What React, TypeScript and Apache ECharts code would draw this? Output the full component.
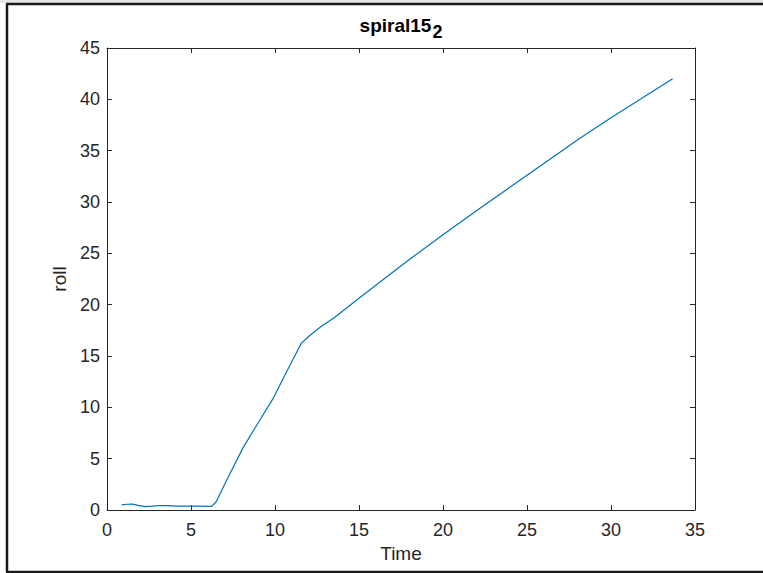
import React, { useEffect, useRef } from "react";
import * as echarts from "echarts";

const timeValues: number[] = [
  0.87, 1.2, 1.5, 1.85, 2.26, 2.7, 3.15, 3.6, 4.15, 5.0, 5.6, 6.23, 6.5, 7.12, 8.11,
  9.0, 9.9, 10.7, 11.55, 12.0, 12.68, 13.5, 15.06, 16.25, 18, 20, 22.2, 25, 28.15, 30, 33.67,
];
const rollValues: number[] = [
  0.5, 0.56, 0.57, 0.45, 0.33, 0.38, 0.44, 0.42, 0.37, 0.38, 0.37, 0.35, 0.8, 2.9, 6.1,
  8.5, 10.9, 13.5, 16.2, 16.9, 17.8, 18.7, 20.7, 22.2, 24.4, 26.8, 29.4, 32.6, 36.2, 38.2, 42.0,
];
const xTicks = { min: 0, max: 35, interval: 5 };
const yTicks = { min: 0, max: 45, interval: 5 };
const titleMain = "spiral15";
const titleSub = "2";
const xName = "Time";
const yName = "roll";

const FONT = "'Liberation Sans', Arial, Helvetica, sans-serif";
const AX = "#262626";

export default function App() {
  const ref = useRef<HTMLDivElement>(null);
  useEffect(() => {
    if (!ref.current) return;
    const chart = echarts.init(ref.current, undefined, { renderer: "svg" });
    const data = timeValues.map((t, i) => [t, rollValues[i]]);
    const axisCommon = {
      axisLine: { show: true, onZero: false, lineStyle: { color: AX, width: 1 } },
      axisTick: { show: true, inside: true, length: 5, lineStyle: { color: AX } },
      splitLine: { show: false },
    };
    const frame = { stroke: "#1a1a1a", lineWidth: 2.5 };
    chart.setOption({
      animation: false,
      backgroundColor: "#ffffff",
      textStyle: { fontFamily: FONT },
      graphic: [
        { type: "rect", shape: { x: 0, y: 0, width: 763, height: 3 }, style: { fill: "#e6e6e6" }, silent: true },
        { type: "line", shape: { x1: 6, y1: 4, x2: 763, y2: 4 }, style: frame, silent: true },
        { type: "line", shape: { x1: 7, y1: 4, x2: 7, y2: 572 }, style: frame, silent: true },
        { type: "line", shape: { x1: 6, y1: 572, x2: 763, y2: 572 }, style: frame, silent: true },
        {
          type: "text",
          x: 401,
          y: 25,
          style: {
            text: `{m|${titleMain}}{s|${titleSub}}`,
            align: "center",
            verticalAlign: "middle",
            rich: {
              m: { fontFamily: FONT, fontWeight: "bold", fontSize: 19, fill: "#000" },
              s: { fontFamily: FONT, fontWeight: "bold", fontSize: 18, fill: "#000", padding: [13, 0, 0, 1] },
            },
          },
        },
      ],
      grid: { left: 107, top: 48, right: 68, bottom: 63, containLabel: false },
      xAxis: [
        {
          type: "value",
          position: "bottom",
          min: xTicks.min,
          max: xTicks.max,
          interval: xTicks.interval,
          ...axisCommon,
          axisLabel: { color: AX, fontSize: 18, fontFamily: FONT, margin: 11 },
          name: xName,
          nameLocation: "middle",
          nameGap: 34,
          nameTextStyle: { color: AX, fontSize: 19, fontFamily: FONT },
        },
        {
          type: "value",
          position: "top",
          min: xTicks.min,
          max: xTicks.max,
          interval: xTicks.interval,
          ...axisCommon,
          axisLabel: { show: false },
        },
      ],
      yAxis: [
        {
          type: "value",
          position: "left",
          min: yTicks.min,
          max: yTicks.max,
          interval: yTicks.interval,
          ...axisCommon,
          axisLabel: { color: AX, fontSize: 18, fontFamily: FONT, margin: 7 },
          name: yName,
          nameLocation: "middle",
          nameGap: 38,
          nameRotate: 90,
          nameTextStyle: { color: AX, fontSize: 19, fontFamily: FONT },
        },
        {
          type: "value",
          position: "right",
          min: yTicks.min,
          max: yTicks.max,
          interval: yTicks.interval,
          ...axisCommon,
          axisLabel: { show: false },
        },
      ],
      series: [
        {
          type: "line",
          data,
          showSymbol: false,
          smooth: false,
          lineStyle: { color: "#0072BD", width: 1.2 },
          xAxisIndex: 0,
          yAxisIndex: 0,
        },
      ],
    });
    return () => chart.dispose();
  }, []);
  return (
    <div
      ref={ref}
      style={{ position: "absolute", left: 0, top: 0, width: 763, height: 573 }}
    />
  );
}
